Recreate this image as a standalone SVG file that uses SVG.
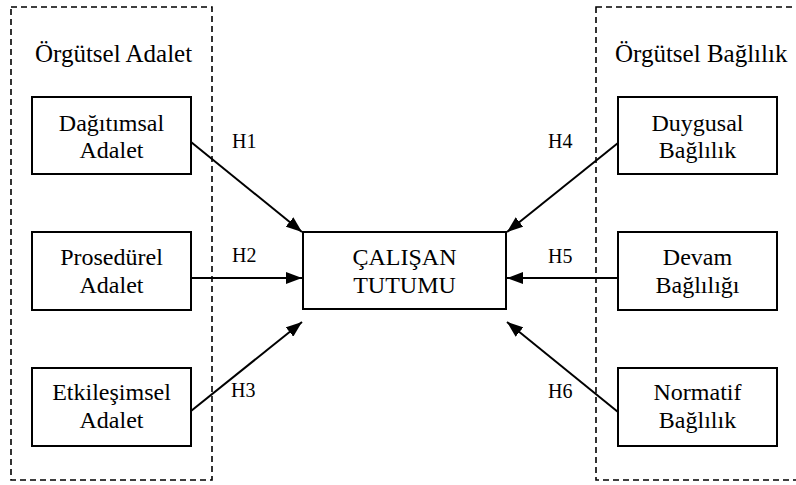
<svg xmlns="http://www.w3.org/2000/svg" width="796" height="485" viewBox="0 0 796 485">
<style>
.grp{fill:none;stroke:#000;stroke-width:1.6;stroke-dasharray:6,4}
.box{fill:#fff;stroke:#000;stroke-width:2}
text{font-family:'Liberation Serif','Tinos','Times New Roman','DejaVu Serif',serif;fill:#000}
.t{font-size:24px;text-anchor:middle}
.ttl{font-size:25px}
.h{font-size:20px}
.c{stroke:#000;stroke-width:2;fill:none;marker-end:url(#ah)}
</style>
<defs>
<marker id="ah" viewBox="0 0 16 12" refX="16" refY="6" markerWidth="16" markerHeight="12" markerUnits="userSpaceOnUse" orient="auto">
<path d="M0,0 L16,6 L0,12 z" fill="#000"/>
</marker>
</defs>
<g id="group-adalet">
<rect class="grp" x="11" y="7" width="201" height="473"/>
<text class="ttl" x="35" y="62">Örgütsel Adalet</text>
</g>
<g id="group-baglilik">
<rect class="grp" x="596" y="7" width="210" height="473"/>
<text class="ttl" x="615" y="62">Örgütsel Bağlılık</text>
</g>
<g id="connectors">
<line class="c" x1="191" y1="142" x2="302" y2="232"/>
<line class="c" x1="191" y1="278" x2="302" y2="278"/>
<line class="c" x1="191" y1="411" x2="302" y2="322"/>
<line class="c" x1="618" y1="143" x2="507" y2="232"/>
<line class="c" x1="618" y1="278" x2="507" y2="278"/>
<line class="c" x1="618" y1="412" x2="507" y2="322"/>
<text class="h" x="232" y="148">H1</text>
<text class="h" x="232" y="262">H2</text>
<text class="h" x="231" y="397">H3</text>
<text class="h" x="548" y="148">H4</text>
<text class="h" x="548" y="263">H5</text>
<text class="h" x="548" y="398">H6</text>
</g>
<g id="dagitimsal">
<rect class="box" x="32" y="97" width="159" height="77"/>
<text class="t" x="111.5" y="131">Dağıtımsal</text>
<text class="t" x="111.5" y="158">Adalet</text>
</g>
<g id="prosedurel">
<rect class="box" x="32" y="232" width="159" height="78"/>
<text class="t" x="111.5" y="265">Prosedürel</text>
<text class="t" x="111.5" y="293">Adalet</text>
</g>
<g id="etkilesimsel">
<rect class="box" x="32" y="368" width="159" height="78"/>
<text class="t" x="111.5" y="400">Etkileşimsel</text>
<text class="t" x="111.5" y="428">Adalet</text>
</g>
<g id="calisan">
<rect class="box" x="303" y="232" width="203" height="77"/>
<text class="t" x="404.5" y="265">ÇALIŞAN</text>
<text class="t" x="404.5" y="293">TUTUMU</text>
</g>
<g id="duygusal">
<rect class="box" x="618" y="97" width="159" height="77"/>
<text class="t" x="697.5" y="131">Duygusal</text>
<text class="t" x="697.5" y="158">Bağlılık</text>
</g>
<g id="devam">
<rect class="box" x="618" y="232" width="159" height="78"/>
<text class="t" x="697.5" y="265">Devam</text>
<text class="t" x="697.5" y="293">Bağlılığı</text>
</g>
<g id="normatif">
<rect class="box" x="618" y="368" width="159" height="78"/>
<text class="t" x="697.5" y="400">Normatif</text>
<text class="t" x="697.5" y="428">Bağlılık</text>
</g>
</svg>
